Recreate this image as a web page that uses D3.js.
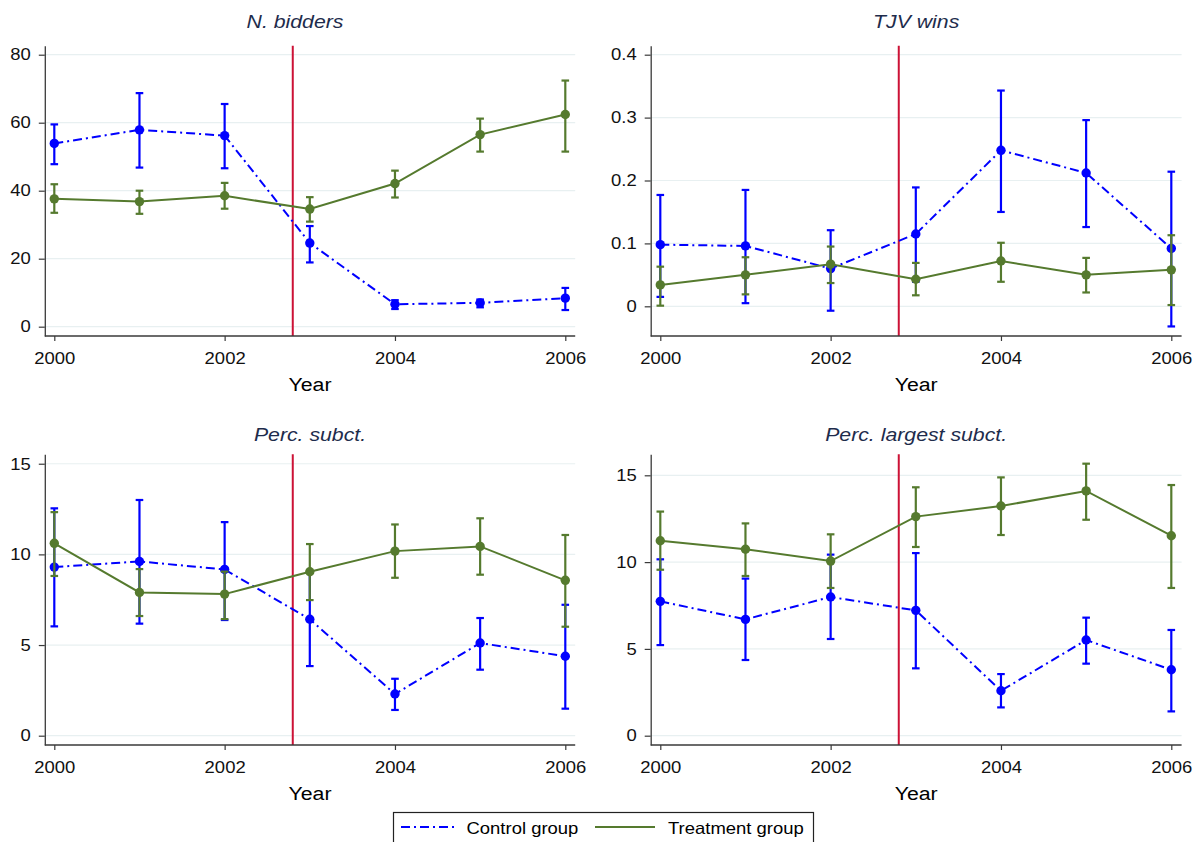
<!DOCTYPE html>
<html>
<head>
<meta charset="utf-8">
<script src="https://cdn.jsdelivr.net/npm/d3@7"></script>
<style>
  body { margin: 0; background: #fff; }
  svg text { font-family: "Liberation Sans", Arial, sans-serif; }
</style>
</head>
<body>
<div id="chart"></div>
<script>
// ---- data ----
const years = [2000, 2001, 2002, 2003, 2004, 2005, 2006];
const xTicks = [2000, 2002, 2004, 2006];
const treatYear = 2002.8;
const panelTitles = ["N. bidders", "TJV wins", "Perc. subct.", "Perc. largest subct."];
const seriesNames = ["Control group", "Treatment group"];

// N. bidders
const biddersCtrl   = [53.9, 57.9, 56.2, 24.6, 6.6, 7.0, 8.4];
const biddersCtrlLo = [47.8, 46.8, 46.6, 18.9, 5.2, 5.7, 4.9];
const biddersCtrlHi = [59.5, 68.7, 65.5, 29.6, 7.8, 8.0, 11.4];
const biddersTrt    = [37.6, 36.8, 38.5, 34.6, 42.1, 56.5, 62.4];
const biddersTrtLo  = [33.5, 33.2, 34.7, 30.9, 38.0, 51.5, 51.5];
const biddersTrtHi  = [41.9, 40.0, 42.3, 38.1, 45.9, 61.2, 72.4];

// TJV wins
const tjvCtrl   = [0.098, 0.096, 0.060, 0.115, 0.248, 0.212, 0.092];
const tjvCtrlLo = [0.015, 0.005, -0.007, 0.039, 0.150, 0.126, -0.032];
const tjvCtrlHi = [0.177, 0.185, 0.121, 0.189, 0.343, 0.296, 0.214];
const tjvTrt    = [0.034, 0.050, 0.067, 0.043, 0.072, 0.050, 0.058];
const tjvTrtLo  = [0.001, 0.019, 0.037, 0.0175, 0.039, 0.022, 0.002];
const tjvTrtHi  = [0.063, 0.078, 0.095, 0.069, 0.101, 0.077, 0.113];

// Perc. subct.
const subCtrl   = [9.30, 9.61, 9.17, 6.42, 2.30, 5.11, 4.38];
const subCtrlLo = [6.03, 6.18, 6.38, 3.84, 1.42, 3.64, 1.49];
const subCtrlHi = [12.54, 13.0, 11.78, 9.0, 3.14, 6.49, 7.22];
const subTrt    = [10.61, 7.90, 7.81, 9.04, 10.18, 10.44, 8.57];
const subTrtLo  = [8.81, 6.60, 6.43, 7.48, 8.71, 8.88, 6.01];
const subTrtHi  = [12.33, 9.19, 9.05, 10.57, 11.65, 11.99, 11.07];

// Perc. largest subct.
const largeCtrl   = [7.74, 6.70, 7.99, 7.22, 2.59, 5.51, 3.80];
const largeCtrlLo = [5.22, 4.36, 5.57, 3.88, 1.63, 4.15, 1.40];
const largeCtrlHi = [10.16, 9.05, 10.43, 10.52, 3.55, 6.80, 6.09];
const largeTrt    = [11.23, 10.74, 10.06, 12.62, 13.23, 14.10, 11.52];
const largeTrtLo  = [9.56, 9.20, 8.51, 10.87, 11.56, 12.44, 8.51];
const largeTrtHi  = [12.91, 12.23, 11.60, 14.31, 14.88, 15.67, 14.44];

const yTicks = [
  [0, 20, 40, 60, 80],
  [0, 0.1, 0.2, 0.3, 0.4],
  [0, 5, 10, 15],
  [0, 5, 10, 15]
];

// ---- layout ----
const width = 1198, height = 842;
const sx = 1.12; // the picture is a bit wider than tall text would suggest
const cols = [
  { left: 44.8, right: 575.2, x0: 54.3, x1: 565.3 },
  { left: 650.7, right: 1181.6, x0: 660.3, x1: 1171.3 }
];
const rows = [
  { top: 45.7, bottom: 336, titleY: 27.7 },
  { top: 454.3, bottom: 745, titleY: 440.7 }
];
const yExtent = [[-2.74, 82.65], [-0.0472, 0.4143], [-0.513, 15.52], [-0.536, 16.21]];
const titleShift = [-15, 0, 0, 0];

const colors = { ctrl: "#0000ff", trt: "#557a2e", red: "#cc1236", axis: "#3a3a3a", grid: "#e8f0f1", title: "#1e2c4c" };

const panels = [
  { ctrl: [biddersCtrl, biddersCtrlLo, biddersCtrlHi], trt: [biddersTrt, biddersTrtLo, biddersTrtHi] },
  { ctrl: [tjvCtrl, tjvCtrlLo, tjvCtrlHi], trt: [tjvTrt, tjvTrtLo, tjvTrtHi] },
  { ctrl: [subCtrl, subCtrlLo, subCtrlHi], trt: [subTrt, subTrtLo, subTrtHi] },
  { ctrl: [largeCtrl, largeCtrlLo, largeCtrlHi], trt: [largeTrt, largeTrtLo, largeTrtHi] }
];

const svg = d3.select("#chart").append("svg")
    .attr("width", width)
    .attr("height", height);

svg.append("rect").attr("width", width).attr("height", height).attr("fill", "#fff");

// text stretched horizontally
function addText(g, x, y, str, size, opts = {}) {
  return g.append("text")
      .attr("transform", `translate(${x},${y}) scale(${sx},1)`)
      .attr("text-anchor", opts.anchor || "middle")
      .attr("font-size", size)
      .attr("font-style", opts.italic ? "italic" : null)
      .attr("fill", opts.fill || "#000")
      .text(str);
}

const dashDot = "9,4,2,4";

panels.forEach((p, i) => {
  const c = cols[i % 2], r = rows[Math.floor(i / 2)];
  const g = svg.append("g");

  const x = d3.scaleLinear().domain([2000, 2006]).range([c.x0, c.x1]);
  const y = d3.scaleLinear().domain(yExtent[i]).range([r.bottom, r.top]);

  // grid lines
  g.selectAll(".grid")
      .data(yTicks[i])
    .enter().append("line")
      .attr("x1", c.left).attr("x2", c.right)
      .attr("y1", d => y(d)).attr("y2", d => y(d))
      .attr("stroke", colors.grid)
      .attr("stroke-width", 1.2);

  // treatment start
  g.append("line")
      .attr("x1", x(treatYear)).attr("x2", x(treatYear))
      .attr("y1", r.top).attr("y2", r.bottom)
      .attr("stroke", colors.red)
      .attr("stroke-width", 2);

  const groups = [
    { vals: p.ctrl, color: colors.ctrl, dash: dashDot },
    { vals: p.trt, color: colors.trt, dash: null }
  ];

  groups.forEach(s => {
    const pts = years.map((yr, k) => ({ yr, m: s.vals[0][k], lo: s.vals[1][k], hi: s.vals[2][k] }));

    // error bars
    const bars = g.append("g").attr("stroke", s.color).attr("stroke-width", 2.2);
    bars.selectAll(".bar").data(pts).enter().append("line")
        .attr("x1", d => x(d.yr)).attr("x2", d => x(d.yr))
        .attr("y1", d => y(d.lo)).attr("y2", d => y(d.hi));
    bars.selectAll(".capLo").data(pts).enter().append("line")
        .attr("x1", d => x(d.yr) - 3.8).attr("x2", d => x(d.yr) + 3.8)
        .attr("y1", d => y(d.lo)).attr("y2", d => y(d.lo));
    bars.selectAll(".capHi").data(pts).enter().append("line")
        .attr("x1", d => x(d.yr) - 3.8).attr("x2", d => x(d.yr) + 3.8)
        .attr("y1", d => y(d.hi)).attr("y2", d => y(d.hi));

    // connecting line
    const line = d3.line().x(d => x(d.yr)).y(d => y(d.m));
    g.append("path")
        .datum(pts)
        .attr("fill", "none")
        .attr("stroke", s.color)
        .attr("stroke-width", 2)
        .attr("stroke-dasharray", s.dash)
        .attr("d", line);

    g.selectAll(".pt").data(pts).enter().append("circle")
        .attr("cx", d => x(d.yr))
        .attr("cy", d => y(d.m))
        .attr("r", 4.7)
        .attr("fill", s.color);
  });

  // y axis
  const yAxis = d3.axisLeft(y)
      .tickValues(yTicks[i])
      .tickFormat(d => String(d))
      .tickSize(6)
      .tickSizeOuter(0)
      .tickPadding(6.5);
  const ya = g.append("g")
      .attr("transform", "translate(" + c.left + ",0)")
      .call(yAxis);
  ya.select(".domain").attr("stroke", colors.axis).attr("stroke-width", 1.3);
  ya.selectAll(".tick line").attr("stroke", colors.axis).attr("stroke-width", 1.2);
  ya.selectAll(".tick text")
      .attr("font-size", 16.5)
      .attr("fill", "#111")
      .attr("transform", `scale(${sx},1)`);

  // x axis
  const xAxis = d3.axisBottom(x)
      .tickValues(xTicks)
      .tickFormat(d3.format("d"))
      .tickSize(5)
      .tickPadding(11);
  const xa = g.append("g")
      .attr("transform", "translate(0," + r.bottom + ")")
      .call(xAxis);
  xa.select(".domain").remove();
  xa.selectAll(".tick line").attr("stroke", colors.axis).attr("stroke-width", 1.2);
  xa.selectAll(".tick text")
      .attr("font-size", 16.5)
      .attr("fill", "#111")
      .attr("transform", `scale(${sx},1)`);
  g.append("line")
      .attr("x1", c.left).attr("x2", c.right)
      .attr("y1", r.bottom).attr("y2", r.bottom)
      .attr("stroke", colors.axis)
      .attr("stroke-width", 1.3);

  // labels
  const mid = (c.left + c.right) / 2;
  addText(g, mid, r.bottom + 54.5, "Year", 19);
  addText(g, mid + titleShift[i], r.titleY, panelTitles[i], 19, { italic: true, fill: colors.title });
});

// legend
const lg = svg.append("g");
lg.append("rect")
    .attr("x", 393.5).attr("y", 812.5)
    .attr("width", 420).attr("height", 31)
    .attr("fill", "#fff")
    .attr("stroke", "#222")
    .attr("stroke-width", 1.2);

const legendItems = [
  { name: seriesNames[0], color: colors.ctrl, dash: dashDot, x1: 401, x2: 457, tx: 466.5 },
  { name: seriesNames[1], color: colors.trt, dash: null, x1: 595, x2: 655, tx: 668 }
];
legendItems.forEach(d => {
  lg.append("line")
      .attr("x1", d.x1).attr("x2", d.x2)
      .attr("y1", 827).attr("y2", 827)
      .attr("stroke", d.color)
      .attr("stroke-width", 2)
      .attr("stroke-dasharray", d.dash);
  addText(lg, d.tx, 833.5, d.name, 16.5, { anchor: "start" });
});
</script>
</body>
</html>
